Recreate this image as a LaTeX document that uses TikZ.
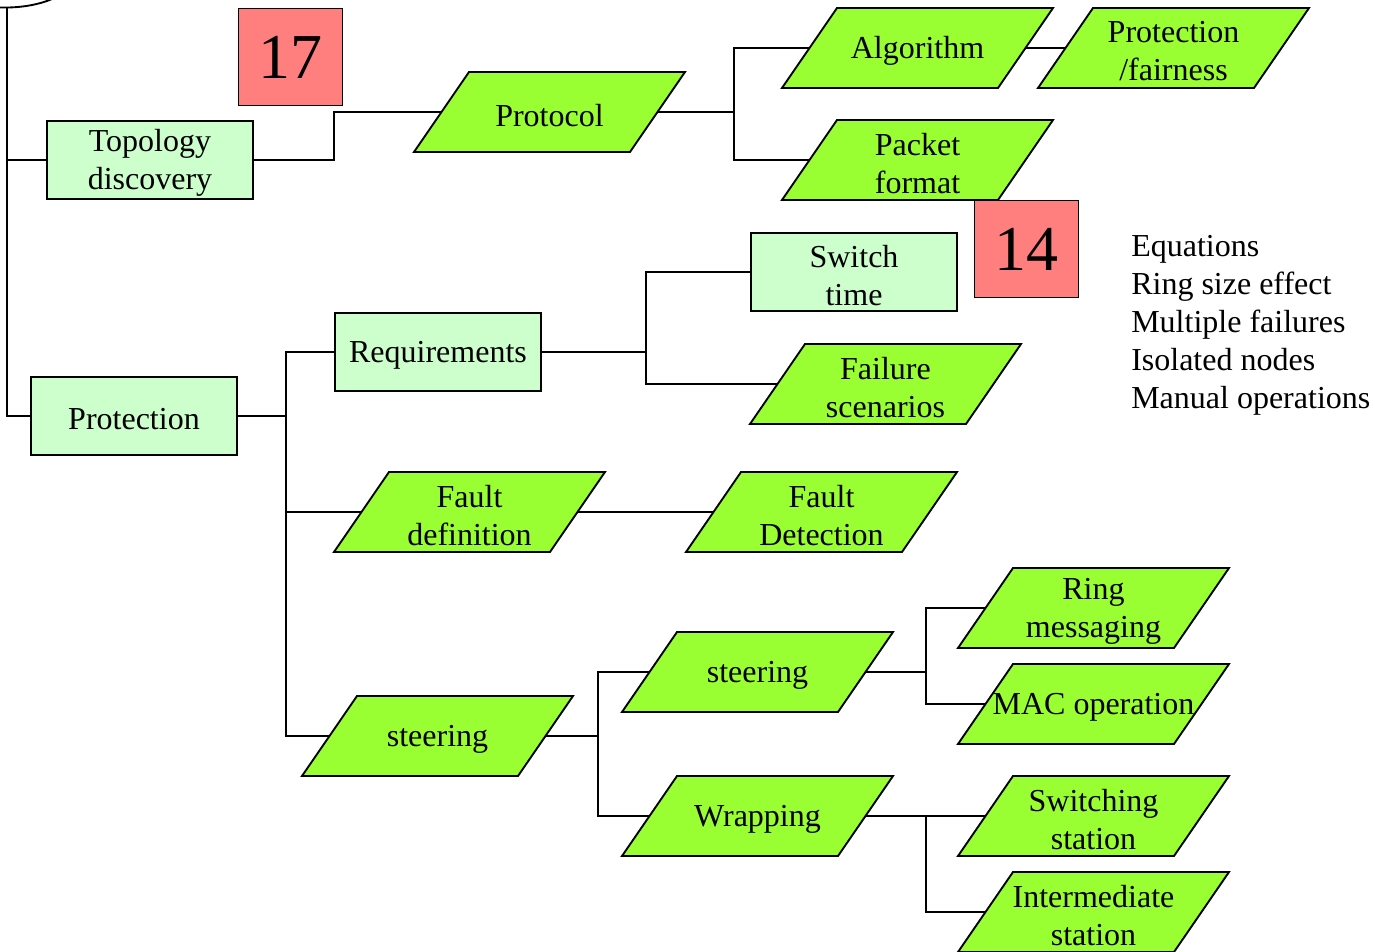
\documentclass[tikz,border=0pt]{standalone}
\usepackage{fontspec}
\setmainfont{Liberation Serif}
\definecolor{pgreen}{HTML}{99FF33}
\definecolor{lgreen}{HTML}{CCFFCC}
\definecolor{pred}{HTML}{FF7F7F}
\tikzset{
  pgshape/.style={draw=black, fill=pgreen, line width=1.4pt, line join=miter},
  pgtext/.style={shape=rectangle, minimum width=162pt, minimum height=60pt, inner sep=0pt},
  rboxs/.style={draw=black, fill=lgreen, line width=1.4pt, minimum width=154.6pt, minimum height=58.6pt, inner sep=0pt},
  lbl/.style={align=center, inner sep=0pt},
  numbox/.style={draw=black, fill=pred, line width=1.4pt, minimum width=78pt, minimum height=72.8pt, inner sep=0pt, font=\fontsize{48}{52}\selectfont},
  conn/.style={draw=black, line width=1.4pt}
}
\newcommand\pgram[4]{%
  \draw[pgshape] (#2,#3) ++(-80.5,-40) -- ++(216,0) -- ++(-55,80) -- ++(-216,0) -- cycle;
  \node[pgtext] (#1) at (#2,#3) {};
  \node[lbl] (#1-t) at ([yshift=-2.5pt]#1.center) {#4};
}
\newcommand\rbox[4]{%
  \node[rboxs] (#1) at (#2,#3) {};
  \node[lbl] (#1-t) at ([yshift=-2.5pt]#1.center) {#4};
}
\begin{document}
\begin{tikzpicture}[x=0.75pt, y=-0.75pt, font=\fontsize{24}{28.5}\selectfont]
\useasboundingbox (0,0) rectangle (1375,952);

% top arc
\draw[conn] (0,7.5) .. controls (20,8) and (38,5) .. (52,-1);

% rectangles
\rbox{topo}{150}{160}{Topology\\discovery}
\rbox{prot}{134}{416}{Protection}
\rbox{req}{438}{352}{Requirements}
\rbox{sw}{854}{272}{Switch\\time}

% parallelograms
\pgram{protocol}{549.5}{112}{Protocol}
\pgram{algo}{917.5}{48}{Algorithm}
\pgram{fair}{1173.5}{48}{Protection\\/fairness}
\pgram{packet}{917.5}{160}{Packet\\format}
\pgram{fail}{885.5}{384}{Failure\\scenarios}
\pgram{fdef}{469.5}{512}{Fault\\definition}
\pgram{fdet}{821.5}{512}{Fault\\Detection}
\pgram{steerA}{437.5}{736}{steering}
\pgram{steerB}{757.5}{672}{steering}
\pgram{wrap}{757.5}{816}{Wrapping}
\pgram{ring}{1093.5}{608}{Ring\\messaging}
\pgram{mac}{1093.5}{704}{MAC operation}
\pgram{swst}{1093.5}{816}{Switching\\station}
\pgram{inter}{1093.5}{912}{Intermediate\\station}

% red boxes
\node[numbox] (n17) at (290.5,57) {17};
\node[numbox] (n14) at (1026.5,249) {14};

% text list
\node[anchor=west, align=left, inner sep=0pt] (eq) at (1131,325) {Equations\\Ring size effect\\Multiple failures\\Isolated nodes\\Manual operations};

% connectors
\coordinate (top) at (7,7.5);
\draw[conn] (top) |- (topo.west);
\draw[conn] (top) |- (prot.west);
\draw[conn] (topo.east) -- ++(80,0) |- (protocol.west);
\coordinate (j1) at (734,112);
\draw[conn] (protocol.east) -- (j1);
\draw[conn] (j1) |- (algo.west);
\draw[conn] (j1) |- (packet.west);
\draw[conn] (algo.east) -- (fair.west);

\coordinate (j2) at (286,416);
\draw[conn] (prot.east) -- (j2);
\draw[conn] (j2) |- (req.west);
\draw[conn] (j2) |- (fdef.west);
\draw[conn] (j2) |- (steerA.west);

\coordinate (j3) at (646,352);
\draw[conn] (req.east) -- (j3);
\draw[conn] (j3) |- (sw.west);
\draw[conn] (j3) |- (fail.west);

\draw[conn] (fdef.east) -- (fdet.west);

\coordinate (j4) at (598,736);
\draw[conn] (steerA.east) -- (j4);
\draw[conn] (j4) |- (steerB.west);
\draw[conn] (j4) |- (wrap.west);

\coordinate (j5) at (926,672);
\draw[conn] (steerB.east) -- (j5);
\draw[conn] (j5) |- (ring.west);
\draw[conn] (j5) |- (mac.west);

\coordinate (j6) at (926,816);
\draw[conn] (wrap.east) -- (j6);
\draw[conn] (j6) |- (swst.west);
\draw[conn] (j6) |- (inter.west);
\end{tikzpicture}
\end{document}
